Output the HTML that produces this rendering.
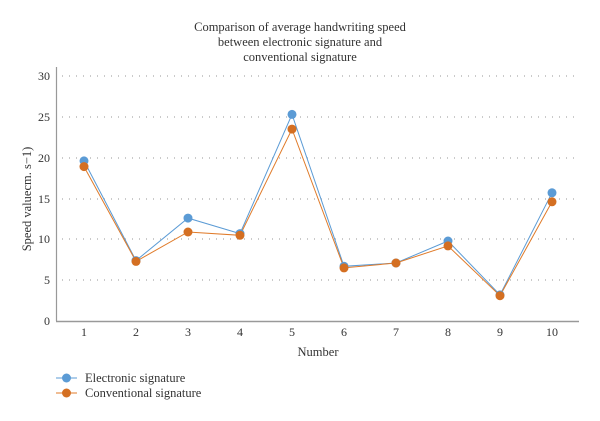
<!DOCTYPE html>
<html><head><meta charset="utf-8"><style>body{margin:0;background:#fff}svg{display:block}text{font-family:"Liberation Serif",serif;fill:#333}</style></head><body>
<svg width="600" height="421" viewBox="0 0 600 421">
<text x="300" y="31" font-size="12.5" text-anchor="middle">Comparison of average handwriting speed</text>
<text x="300" y="46" font-size="12.5" text-anchor="middle">between electronic signature and</text>
<text x="300" y="61" font-size="12.5" text-anchor="middle">conventional signature</text>
<g stroke="#aaa" stroke-width="1.2" stroke-dasharray="1,6">
<line x1="62" y1="76" x2="578" y2="76"/><line x1="62" y1="117" x2="578" y2="117"/><line x1="62" y1="158" x2="578" y2="158"/><line x1="62" y1="199" x2="578" y2="199"/><line x1="62" y1="239" x2="578" y2="239"/><line x1="62" y1="280" x2="578" y2="280"/>
</g>
<line x1="56.5" y1="67" x2="56.5" y2="321" stroke="#999" stroke-width="1.2"/>
<line x1="56" y1="321.5" x2="579" y2="321.5" stroke="#999" stroke-width="1.5"/>
<g font-size="12" text-anchor="end">
<text x="50" y="80">30</text><text x="50" y="121">25</text><text x="50" y="162">20</text><text x="50" y="203">15</text><text x="50" y="243">10</text><text x="50" y="284">5</text><text x="50" y="325">0</text>
</g>
<g font-size="12" text-anchor="middle">
<text x="84" y="336">1</text><text x="136" y="336">2</text><text x="188" y="336">3</text><text x="240" y="336">4</text><text x="292" y="336">5</text><text x="344" y="336">6</text><text x="396" y="336">7</text><text x="448" y="336">8</text><text x="500" y="336">9</text><text x="552" y="336">10</text>
</g>
<text x="318" y="356" font-size="12.5" text-anchor="middle">Number</text>
<text transform="translate(31,199) rotate(-90)" font-size="12.5" text-anchor="middle">Speed valuecm. s−1)</text>
<polyline fill="none" stroke="#5b9bd5" stroke-width="1" points="84,160.9 136,260.6 188,218.1 240,233.6 292,114.4 344,266.3 396,263 448,241 500,294.9 552,192.8"/>
<polyline fill="none" stroke="#e07b2a" stroke-width="1" points="84,166.6 136,261.4 188,232 240,235.3 292,129.1 344,267.9 396,263 448,245.9 500,295.7 552,201.8"/>
<g fill="#5b9bd5">
<circle cx="84" cy="160.9" r="4.5"/><circle cx="136" cy="260.6" r="4.5"/><circle cx="188" cy="218.1" r="4.5"/><circle cx="240" cy="233.6" r="4.5"/><circle cx="292" cy="114.4" r="4.5"/><circle cx="344" cy="266.3" r="4.5"/><circle cx="396" cy="263" r="4.5"/><circle cx="448" cy="241" r="4.5"/><circle cx="500" cy="294.9" r="4.5"/><circle cx="552" cy="192.8" r="4.5"/>
</g>
<g fill="#d46f22">
<circle cx="84" cy="166.6" r="4.5"/><circle cx="136" cy="261.4" r="4.5"/><circle cx="188" cy="232" r="4.5"/><circle cx="240" cy="235.3" r="4.5"/><circle cx="292" cy="129.1" r="4.5"/><circle cx="344" cy="267.9" r="4.5"/><circle cx="396" cy="263" r="4.5"/><circle cx="448" cy="245.9" r="4.5"/><circle cx="500" cy="295.7" r="4.5"/><circle cx="552" cy="201.8" r="4.5"/>
</g>
<line x1="56" y1="378" x2="77" y2="378" stroke="#5b9bd5"/><circle cx="66.5" cy="378" r="4.5" fill="#5b9bd5"/>
<line x1="56" y1="393" x2="77" y2="393" stroke="#e07b2a"/><circle cx="66.5" cy="393" r="4.5" fill="#d46f22"/>
<text x="85" y="382" font-size="12.5">Electronic signature</text>
<text x="85" y="397" font-size="12.5">Conventional signature</text>
</svg>
</body></html>
